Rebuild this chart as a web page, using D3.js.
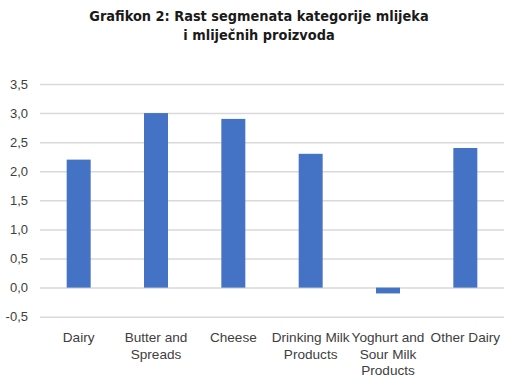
<!DOCTYPE html>
<html><head><meta charset="utf-8">
<script src="https://cdn.jsdelivr.net/npm/d3@7"></script>
<style>body{margin:0;background:#fff;} svg{display:block;}</style>
</head><body>
<svg id="c" width="520" height="391"></svg>
<script>
const categories = ["Dairy", "Butter and Spreads", "Cheese", "Drinking Milk Products", "Yoghurt and Sour Milk Products", "Other Dairy"];
const categoryLines = [["Dairy"], ["Butter and", "Spreads"], ["Cheese"], ["Drinking Milk", "Products"], ["Yoghurt and", "Sour Milk", "Products"], ["Other Dairy"]];
const values = [2.2, 3.0, 2.9, 2.3, -0.1, 2.4];
const yTicks = [-0.5, 0, 0.5, 1.0, 1.5, 2.0, 2.5, 3.0, 3.5];
const titleLines = ["Grafikon 2: Rast segmenata kategorije mlijeka", "i mliječnih proizvoda"];

const svg = d3.select("#c");
const x = d3.scaleBand().domain(categories).range([40, 504]).paddingInner(0.69).paddingOuter(0.345);
const y = d3.scaleLinear().domain([-0.5, 3.5]).range([316.7, 84]);

svg.append("g").selectAll("text").data(titleLines).join("text")
  .attr("x", 259).attr("y", (d,i) => 21 + i*18.5)
  .attr("text-anchor", "middle")
  .attr("font-family", "'DejaVu Sans Condensed', 'Liberation Sans Narrow', sans-serif")
  .attr("font-weight", "bold").attr("font-size", 14.4).attr("fill", "#1a1a1a")
  .text(d => d);

const yAxis = d3.axisLeft(y).tickValues(yTicks).tickSize(-464).tickPadding(12)
  .tickFormat(d => d3.format(".1f")(d).replace(".", ",").replace("−", "-"));
const gy = svg.append("g").attr("transform", "translate(40,0)").call(yAxis);
gy.select(".domain").remove();
gy.selectAll(".tick line").attr("stroke", "#d9d9d9").attr("stroke-width", 1.5);
gy.selectAll(".tick text").attr("font-family", "'Liberation Sans', Arial, sans-serif")
  .attr("font-size", 13).attr("fill", "#404040");

svg.append("g").selectAll("rect").data(values).join("rect")
  .attr("x", (d,i) => x(categories[i]))
  .attr("width", x.bandwidth())
  .attr("y", d => y(Math.max(0, d)))
  .attr("height", d => Math.abs(y(d) - y(0)))
  .attr("fill", "#4472c4");

const gx = svg.append("g");
categories.forEach((c, i) => {
  const t = gx.append("text")
    .attr("x", x(c) + x.bandwidth()/2).attr("y", 342)
    .attr("text-anchor", "middle")
    .attr("font-family", "'Liberation Sans', Arial, sans-serif")
    .attr("font-size", 13.6).attr("fill", "#404040");
  categoryLines[i].forEach((l, j) => {
    t.append("tspan").attr("x", x(c) + x.bandwidth()/2).attr("dy", j === 0 ? 0 : 16.7).text(l);
  });
});
</script>
</body></html>
